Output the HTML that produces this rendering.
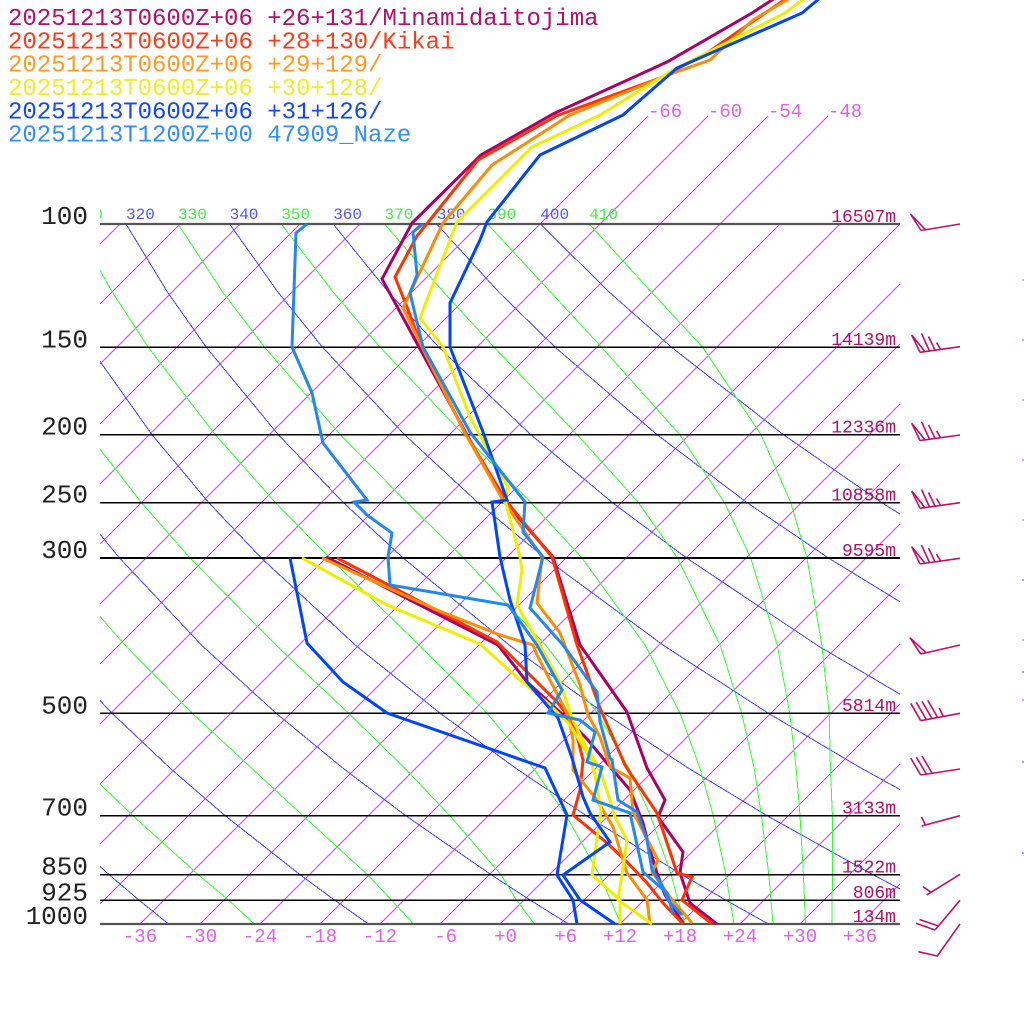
<!DOCTYPE html>
<html>
<head>
<meta charset="utf-8">
<style>
html,body{margin:0;padding:0;background:#fff;}
svg{display:block;}
</style>
</head>
<body>
<svg width="1024" height="1024" viewBox="0 0 1024 1024" xmlns="http://www.w3.org/2000/svg">
<defs>
<clipPath id="plot"><rect x="100" y="224" width="800" height="700"/></clipPath>
<clipPath id="lab"><rect x="100" y="190" width="800" height="40"/></clipPath>
</defs>
<rect width="1024" height="1024" fill="#fff"/>

<!-- isotherms -->
<g stroke="#dd44ee" stroke-width="1" fill="none" shape-rendering="crispEdges">
<line x1="100" y1="244" x2="120" y2="224"/>
<line x1="100" y1="304" x2="180" y2="224"/>
<line x1="100" y1="364" x2="240" y2="224"/>
<line x1="100" y1="424" x2="300" y2="224"/>
<line x1="100" y1="484" x2="360" y2="224"/>
<line x1="100" y1="544" x2="420" y2="224"/>
<line x1="100" y1="604" x2="480" y2="224"/>
<line x1="100" y1="664" x2="648" y2="116"/>
<line x1="100" y1="724" x2="708" y2="116"/>
<line x1="100" y1="784" x2="768" y2="116"/>
<line x1="100" y1="844" x2="828" y2="116"/>
<line x1="100" y1="904" x2="780" y2="224"/>
<line x1="140" y1="924" x2="840" y2="224"/>
<line x1="200" y1="924" x2="900" y2="224"/>
<line x1="260" y1="924" x2="900" y2="284"/>
<line x1="320" y1="924" x2="900" y2="344"/>
<line x1="380" y1="924" x2="900" y2="404"/>
<line x1="440" y1="924" x2="900" y2="464"/>
<line x1="500" y1="924" x2="900" y2="524"/>
<line x1="560" y1="924" x2="900" y2="584"/>
<line x1="620" y1="924" x2="900" y2="644"/>
<line x1="680" y1="924" x2="900" y2="704"/>
<line x1="740" y1="924" x2="900" y2="764"/>
<line x1="800" y1="924" x2="900" y2="824"/>
<line x1="860" y1="924" x2="900" y2="884"/>
</g>

<!-- dry adiabats -->
<g clip-path="url(#plot)" stroke="#4444ff" stroke-width="1" fill="none" shape-rendering="crispEdges">
<polyline points="168.5,924 139.3,900.3 109,874.6 44.4,815.6"/>
<polyline points="368.5,924 334.9,900.3 299.9,874.6 225,815.6 170.7,768.7 112.1,713.3 48,645.6"/>
<polyline points="568.5,924 530.5,900.3 490.9,874.6 405.6,815.6 343.6,768.7 276.2,713.3 202,645.6 119.5,558 74,502.6"/>
<polyline points="768.5,924 726.1,900.3 681.8,874.6 586.2,815.6 516.4,768.7 440.2,713.3 355.9,645.6 261.3,558 208.7,502.6 152,434.7 90,347.3"/>
<polyline points="968.5,924 921.7,900.3 872.7,874.6 766.9,815.6 689.3,768.7 604.3,713.3 509.9,645.6 403.1,558 343.3,502.6 278.3,434.7 206.3,347.3 167.3,291.8 126,224"/>
<polyline points="1063.6,874.6 947.5,815.6 862.1,768.7 768.4,713.3 663.8,645.6 544.9,558 477.9,502.6 404.6,434.7 322.6,347.3 277.7,291.8 229.6,224"/>
<polyline points="1035,768.7 932.4,713.3 817.7,645.6 686.6,558 612.4,502.6 530.8,434.7 438.9,347.3 388.1,291.8 333.2,224"/>
<polyline points="971.7,645.6 828.4,558 747,502.6 657.1,434.7 555.2,347.3 498.5,291.8 436.7,224"/>
<polyline points="970.2,558 881.6,502.6 783.4,434.7 671.6,347.3 608.9,291.8 540.3,224"/>
</g>

<!-- moist adiabats -->
<g clip-path="url(#plot)" stroke="#33ff33" stroke-width="1" fill="none" shape-rendering="crispEdges">
<polyline points="254.4,924 228.7,900.3 198.1,874.6 132.8,815.6 84,768.7"/>
<polyline points="413.5,924 391.7,900.3 367.4,874.6 302.9,815.6 252.1,768.7 192.3,713.3 125.4,645.6 49,558"/>
<polyline points="534.5,924 516.7,900.3 500.9,874.6 449.7,815.6 405.3,768.7 348.7,713.3 276.4,645.6 190,558 141.4,502.6 88.8,434.7"/>
<polyline points="620.8,924 610.7,900.3 599.4,874.6 566.1,815.6 533.7,768.7 487,713.3 419.7,645.6 329.8,558 275.4,502.6 215.3,434.7 148.2,347.3 112.1,291.8 74,224"/>
<polyline points="685,924 678,900.3 671.1,874.6 650.4,815.6 629.2,768.7 597.4,713.3 546.1,645.6 463.5,558 406.9,502.6 340.3,434.7 264.7,347.3 222.5,291.8 178,224"/>
<polyline points="734,924 730,900.3 725.9,874.6 713.2,815.6 700.1,768.7 680,713.3 645.4,645.6 582,558 530.9,502.6 463.5,434.7 380.2,347.3 332.9,291.8 281.3,224"/>
<polyline points="773,924 771,900.3 768.8,874.6 761.4,815.6 754.3,768.7 741.7,713.3 720.3,645.6 677.5,558 638.4,502.6 577.3,434.7 494.2,347.3 443.3,291.8 384.5,224"/>
<polyline points="805.5,924 804.5,900.3 803.4,874.6 800,815.6 796.2,768.7 789.7,713.3 777.4,645.6 750.7,558 724.4,502.6 679.8,434.7 601.7,347.3 550.3,291.8 487.5,224"/>
<polyline points="832,924 832.2,900.3 832.4,874.6 832.4,815.6 830.4,768.7 829.2,713.3 821.9,645.6 807,558 790.7,502.6 761,434.7 702.7,347.3 651.2,291.8 589.2,224"/>
</g>

<!-- isobars -->
<g stroke="#000" stroke-width="1.6" shape-rendering="crispEdges">
<line x1="100" y1="347.3" x2="900" y2="347.3"/>
<line x1="100" y1="434.7" x2="900" y2="434.7"/>
<line x1="100" y1="502.6" x2="900" y2="502.6"/>
<line x1="100" y1="558" x2="900" y2="558"/>
<line x1="100" y1="713.3" x2="900" y2="713.3"/>
<line x1="100" y1="815.6" x2="900" y2="815.6"/>
<line x1="100" y1="874.6" x2="900" y2="874.6"/>
<line x1="100" y1="900.3" x2="900" y2="900.3"/>
</g>
<g stroke="#555" stroke-width="2.2">
<line x1="100" y1="224" x2="900" y2="224"/>
<line x1="100" y1="924" x2="900" y2="924"/>
</g>

<!-- adiabat labels -->
<g clip-path="url(#lab)" font-family="Liberation Mono, DejaVu Sans Mono, monospace" font-size="16">
<text x="74" y="219" fill="#44ee44">310</text>
<text x="126" y="219" fill="#5555ff">320</text>
<text x="178" y="219" fill="#44ee44">330</text>
<text x="229.6" y="219" fill="#5555ff">340</text>
<text x="281.3" y="219" fill="#44ee44">350</text>
<text x="333.2" y="219" fill="#5555ff">360</text>
<text x="384.5" y="219" fill="#44ee44">370</text>
<text x="436.7" y="219" fill="#5555ff">380</text>
<text x="487.5" y="219" fill="#44ee44">390</text>
<text x="540.3" y="219" fill="#5555ff">400</text>
<text x="589.2" y="219" fill="#44ee44">410</text>
</g>

<!-- isotherm top labels -->
<g font-family="Liberation Mono, DejaVu Sans Mono, monospace" font-size="19" fill="#e060e8">
<text x="648" y="117">-66</text>
<text x="708" y="117">-60</text>
<text x="768" y="117">-54</text>
<text x="828" y="117">-48</text>
</g>

<!-- bottom temperature labels -->
<g font-family="Liberation Mono, DejaVu Sans Mono, monospace" font-size="19" fill="#e060e8" text-anchor="middle">
<text x="140" y="942">-36</text>
<text x="200" y="942">-30</text>
<text x="260" y="942">-24</text>
<text x="320" y="942">-18</text>
<text x="380" y="942">-12</text>
<text x="445.7" y="942">-6</text>
<text x="505.7" y="942">+0</text>
<text x="565.7" y="942">+6</text>
<text x="620" y="942">+12</text>
<text x="680" y="942">+18</text>
<text x="740" y="942">+24</text>
<text x="800" y="942">+30</text>
<text x="860" y="942">+36</text>
</g>

<!-- pressure labels -->
<g font-family="Liberation Mono, DejaVu Sans Mono, monospace" font-size="26" fill="#222" text-anchor="end">
<text x="88" y="224">100</text>
<text x="88" y="347.3">150</text>
<text x="88" y="434.7">200</text>
<text x="88" y="502.6">250</text>
<text x="88" y="558">300</text>
<text x="88" y="713.3">500</text>
<text x="88" y="815.6">700</text>
<text x="88" y="874.6">850</text>
<text x="88" y="900.3">925</text>
<text x="88" y="924">1000</text>
</g>

<!-- height labels -->
<g font-family="Liberation Mono, DejaVu Sans Mono, monospace" font-size="18" fill="#b0106a" text-anchor="end">
<text x="896" y="222">16507m</text>
<text x="896" y="345">14139m</text>
<text x="896" y="432.5">12336m</text>
<text x="896" y="500.5">10858m</text>
<text x="896" y="556">9595m</text>
<text x="896" y="711">5814m</text>
<text x="896" y="813.5">3133m</text>
<text x="896" y="872.5">1522m</text>
<text x="896" y="898">806m</text>
<text x="896" y="922">134m</text>
</g>

<!-- soundings -->
<g fill="none" stroke-width="3" stroke-linejoin="miter" stroke-miterlimit="3">
<polyline stroke="#aa0066" points="775,-2 752,13 667,62 553,114 481,155 412,223 382,279 419,347 467,435 503,500 553,557 580,645 627,712 647,768 665,800 658,817 683,852 680,873 690,903 717,924"/>
<polyline stroke="#aa0066" points="326,557 498,645 527,682 563,715 588,740 606,762 630,790 643,823 650,850 657,873 665,895 683,923"/>
<polyline stroke="#ff3300" points="787,-2 755,20 707,53 660,78 556,116 478,160 417,236 395,277 407,307 422,347 465,433 507,502 552,557 577,645 600,708 625,765 630,773 657,813 677,873 692,877 682,900 712,924"/>
<polyline stroke="#ff3300" points="337,558 497,642 510,655 557,702 570,718 578,740 583,760 580,790 573,815 607,843 627,862 647,883 663,903 683,924"/>
<polyline stroke="#ff8c00" points="790,-2 753,20 710,60 668,75 570,115 492,165 443,223 403,308 422,347 465,433 503,500 542,557 537,603 560,633 580,685 588,715 600,737 610,767 630,778 633,812 658,860 652,872 670,897 692,923"/>
<polyline stroke="#ff8c00" points="322,558 437,610 500,635 533,645 537,655 555,690 568,715 573,740 573,770 597,800 613,827 627,873 647,900 650,924"/>
<polyline stroke="#eeee00" points="805,-2 785,13 673,70 600,115 532,147 457,222 450,240 420,318 443,347 470,417 508,487 505,500 520,557 522,570 517,605 537,640 560,682 572,718 585,745 600,770 610,800 615,817 627,840 622,875 618,900 652,924"/>
<polyline stroke="#eeee00" points="302,558 387,605 480,644 520,680 550,705 570,725 590,758 595,775 601,810 592,875 620,900 620,924"/>
<polyline stroke="#0044ff" points="820,-2 802,13 677,68 623,115 540,155 487,222 480,240 450,303 450,347 483,432 507,500 492,502 500,557 510,600 525,645 527,682 558,718 572,758 583,797 590,813 610,842 563,875 580,900 615,924"/>
<polyline stroke="#0044ff" points="290,558 307,643 343,682 387,713 545,768 567,815 557,875 573,900 577,924"/>
<polyline stroke="#2288ee" points="423,224 413,232 417,275 410,293 423,347 470,432 525,502 523,532 543,557 530,608 563,645 597,692 600,722 610,758 612,760 618,800 637,812 647,840 652,870 662,885 668,900 682,915"/>
<polyline stroke="#2288ee" points="307,224 296,233 292,347 312,393 323,443 367,500 354,502 367,515 392,533 388,557 390,585 508,605 537,645 562,690 548,713 580,720 595,732 587,762 602,767 593,800 630,813 643,872 667,893 673,913"/>
</g>

<!-- wind barbs -->
<g stroke="#c0106a" stroke-width="1.6" fill="none" stroke-linejoin="miter">
<polyline points="960,224 921,230.5"/>
<polyline points="921,230.5 910.5,214 925.5,229.7"/>
<polyline points="960,346.7 920,352.3"/>
<polyline points="920,352.3 911.7,335 925,351.6"/>
<line x1="929.5" y1="350.9" x2="921.5" y2="333.5"/>
<line x1="935" y1="350" x2="928.5" y2="336.5"/>
<line x1="940.5" y1="349.2" x2="936.5" y2="342.5"/>
<polyline points="960,435 920,440.6"/>
<polyline points="920,440.6 911.7,423.3 925,439.9"/>
<line x1="929.5" y1="439.2" x2="921.5" y2="421.8"/>
<line x1="935" y1="438.3" x2="928.5" y2="424.8"/>
<line x1="940.5" y1="437.5" x2="936.5" y2="430.8"/>
<polyline points="960,502.7 920,508.3"/>
<polyline points="920,508.3 911.7,491 925,507.6"/>
<line x1="929.5" y1="506.9" x2="921.5" y2="489.5"/>
<line x1="935" y1="506" x2="928.5" y2="492.5"/>
<line x1="940.5" y1="505.2" x2="936.5" y2="498.5"/>
<polyline points="960,558.3 920,564"/>
<polyline points="920,564 911.7,546.7 925,563.3"/>
<line x1="929.5" y1="562.6" x2="921.5" y2="545.2"/>
<line x1="935" y1="561.7" x2="928.5" y2="548.2"/>
<line x1="940.5" y1="560.9" x2="936.5" y2="554.2"/>
<polyline points="960,645 920.7,654"/>
<polyline points="920.7,654 910,637.7 926,652.7"/>
<polyline points="960,713.3 920.7,720.7"/>
<line x1="920.7" y1="720.7" x2="910.7" y2="703.3"/>
<line x1="926.3" y1="719.6" x2="916.3" y2="702.3"/>
<line x1="932" y1="718.6" x2="922" y2="701.3"/>
<line x1="937.7" y1="717.5" x2="927.7" y2="700.3"/>
<line x1="943.3" y1="716.5" x2="939.3" y2="708"/>
<polyline points="960,769 920.7,775"/>
<line x1="920.7" y1="775" x2="910.7" y2="758"/>
<line x1="926.3" y1="774" x2="916.3" y2="757"/>
<line x1="932" y1="773" x2="922" y2="756"/>
<polyline points="960,815.7 921.7,826"/>
<line x1="925.5" y1="825" x2="921.5" y2="817"/>
<polyline points="960,874.3 926.7,895"/>
<line x1="931" y1="892.3" x2="923" y2="886.7"/>
<polyline points="960,900.3 935,930"/>
<line x1="935" y1="930" x2="916" y2="923.3"/>
<line x1="938.5" y1="926" x2="919.5" y2="919.5"/>
<polyline points="960,924 937.3,956 918.3,951.7"/>
</g>

<!-- tiny edge marks -->
<g stroke-width="1">
<line x1="1022" y1="280" x2="1024" y2="280" stroke="#dd44ee"/>
<line x1="1022" y1="340" x2="1024" y2="340" stroke="#dd44ee"/>
<line x1="1022" y1="400" x2="1024" y2="400" stroke="#dd44ee"/>
<line x1="1022" y1="460" x2="1024" y2="460" stroke="#dd44ee"/>
<line x1="1022" y1="520" x2="1024" y2="520" stroke="#dd44ee"/>
<line x1="1022" y1="580" x2="1024" y2="580" stroke="#4444ff"/>
<line x1="1022" y1="640" x2="1024" y2="640" stroke="#dd44ee"/>
<line x1="1022" y1="672" x2="1024" y2="672" stroke="#4444ff"/>
<line x1="1022" y1="700" x2="1024" y2="700" stroke="#dd44ee"/>
<line x1="1022" y1="762" x2="1024" y2="762" stroke="#4444ff"/>
<line x1="1022" y1="853" x2="1024" y2="853" stroke="#4444ff"/>
</g>

<!-- legend -->
<g font-family="Liberation Mono, DejaVu Sans Mono, monospace" font-size="24">
<text x="8" y="25" fill="#b0106e">20251213T0600Z+06 +26+131/Minamidaitojima</text>
<text x="8" y="48.3" fill="#ff3a1a">20251213T0600Z+06 +28+130/Kikai</text>
<text x="8" y="71.6" fill="#ff9a22">20251213T0600Z+06 +29+129/</text>
<text x="8" y="95" fill="#eeee22">20251213T0600Z+06 +30+128/</text>
<text x="8" y="118.3" fill="#1448f0">20251213T0600Z+06 +31+126/</text>
<text x="8" y="141.6" fill="#3090f8">20251213T1200Z+00 47909_Naze</text>
</g>
</svg>
</body>
</html>
